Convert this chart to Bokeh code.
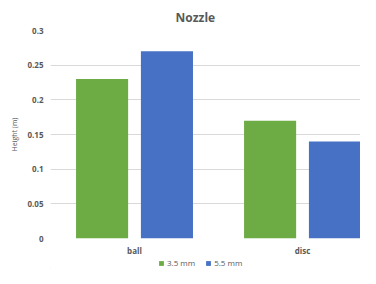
from bokeh.plotting import figure
from bokeh.models import Range1d, FixedTicker, ColumnDataSource, Legend, LegendItem
from bokeh.layouts import column
from bokeh.transform import dodge
from bokeh.embed import file_html
from bokeh.resources import INLINE

categories = ["ball", "disc"]
series_names = ["3.5 mm", "5.5 mm"]
small = [0.23, 0.17]
large = [0.27, 0.14]
y_ticks = [0, 0.05, 0.1, 0.15, 0.2, 0.25, 0.3]
y_tick_labels = ["0", "0.05", "0.1", "0.15", "0.2", "0.25", "0.3"]

TEXT = "#595959"
FONT = "Open Sans"
GREEN = "#6dab45"
BLUE = "#4671c4"

xs = [i + 0.5 for i in range(len(categories))]
src = ColumnDataSource(dict(x=xs, small=small, large=large))

p = figure(width=360, height=258, output_backend="svg", toolbar_location=None,
           x_range=Range1d(0, 1.845), y_range=Range1d(0, 0.3),
           min_border_left=50, min_border_right=0, min_border_top=30, min_border_bottom=19)
p.outline_line_color = None

p.title.text = "Nozzle"
p.title.align = "left"
p.title.text_font = FONT
p.title.text_font_size = "12px"
p.title.text_font_style = "bold"
p.title.text_color = TEXT
p.title.offset = 125
p.title.standoff = 10

r1 = p.vbar(x=dodge("x", -0.193), top="small", width=0.31, source=src,
            fill_color=GREEN, line_color=None)
r2 = p.vbar(x=dodge("x", 0.193), top="large", width=0.31, source=src,
            fill_color=BLUE, line_color=None)

p.xgrid.grid_line_color = None
p.ygrid.grid_line_color = "#d9d9d9"
p.ygrid.ticker = FixedTicker(ticks=y_ticks)

p.yaxis.ticker = FixedTicker(ticks=y_ticks)
p.yaxis.major_label_overrides = {t: l for t, l in zip(y_ticks, y_tick_labels)}
p.yaxis.axis_line_color = None
p.yaxis.major_tick_line_color = None
p.yaxis.major_tick_out = 0
p.yaxis.major_tick_in = 0
p.yaxis.minor_tick_line_color = None
p.yaxis.major_label_text_font = FONT
p.yaxis.major_label_text_font_size = "8px"
p.yaxis.major_label_text_font_style = "bold"
p.yaxis.major_label_text_color = TEXT
p.yaxis.major_label_standoff = 7
p.yaxis.axis_label = "Height (m)"
p.yaxis.axis_label_text_font = FONT
p.yaxis.axis_label_text_font_size = "7px"
p.yaxis.axis_label_text_font_style = "normal"
p.yaxis.axis_label_text_color = TEXT
p.yaxis.axis_label_standoff = 5

p.xaxis.ticker = FixedTicker(ticks=xs)
p.xaxis.major_label_overrides = {x: c for x, c in zip(xs, categories)}
p.xaxis.axis_line_color = None
p.xaxis.major_tick_line_color = None
p.xaxis.major_tick_out = 0
p.xaxis.major_tick_in = 0
p.xaxis.minor_tick_line_color = None
p.xaxis.major_label_text_font = FONT
p.xaxis.major_label_text_font_size = "8px"
p.xaxis.major_label_text_font_style = "bold"
p.xaxis.major_label_text_color = TEXT
p.xaxis.major_label_standoff = 6

# legend strip below the chart
lf = figure(width=360, height=10, output_backend="svg", toolbar_location=None,
            x_range=Range1d(100, 101), y_range=Range1d(0, 1),
            x_axis_type=None, y_axis_type=None,
            min_border_left=0, min_border_right=0, min_border_top=0, min_border_bottom=0)
lf.outline_line_color = None
lf.grid.visible = False
l1 = lf.vbar(x=dodge("x", -0.193), top="small", width=0.31, source=src,
             fill_color=GREEN, line_color=None)
l2 = lf.vbar(x=dodge("x", 0.193), top="large", width=0.31, source=src,
             fill_color=BLUE, line_color=None)

legend = Legend(items=[LegendItem(label=series_names[0], renderers=[l1]),
                       LegendItem(label=series_names[1], renderers=[l2])],
                orientation="horizontal", location=(108, 0))
legend.label_text_font = FONT
legend.label_text_font_size = "8px"
legend.label_text_color = TEXT
legend.glyph_width = 6
legend.glyph_height = 6
legend.label_standoff = 3
legend.spacing = 10
legend.padding = 0
legend.margin = 0
legend.label_height = 9
legend.border_line_color = None
legend.background_fill_alpha = 0
lf.add_layout(legend)

layout = column(p, lf, spacing=0)
open("out.html", "w").write(file_html(layout, INLINE))
